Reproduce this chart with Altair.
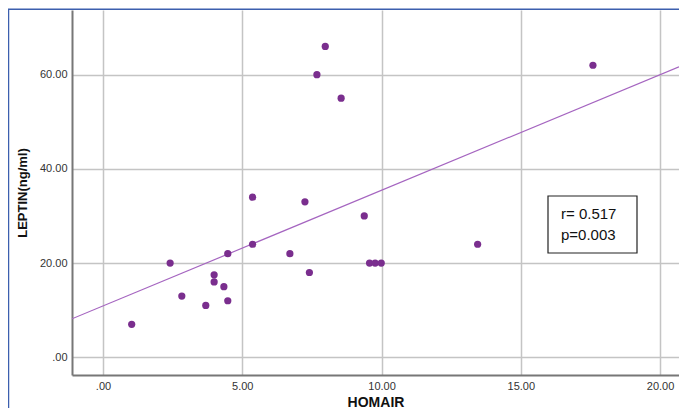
import altair as alt
import pandas as pd

# ---- data ----
homair = [1.03, 2.41, 2.83, 3.69, 3.99, 3.99, 4.34, 4.48, 4.48, 5.37, 5.37, 6.71,
          7.25, 7.41, 9.38, 9.57, 9.77, 9.99, 13.45, 7.98, 7.68, 8.55, 17.59]
leptin = [7.0, 20.0, 13.0, 11.0, 17.5, 16.0, 15.0, 22.0, 12.0, 34.0, 24.0, 22.0,
          33.0, 18.0, 30.0, 20.0, 20.0, 20.0, 24.0, 66.0, 60.0, 55.0, 62.0]

x_ticks = [0, 5, 10, 15, 20]
y_ticks = [0, 20, 40, 60]
x_domain = [-1.113, 20.68]
y_domain = [-3.76, 73.73]

fit_intercept = 10.9
fit_slope = 2.455

stats_text = ["r= 0.517", "p=0.003"]

# ---- tables ----
pts = pd.DataFrame({"HOMAIR": homair, "LEPTIN": leptin})
fit = pd.DataFrame({"HOMAIR": x_domain,
                    "LEPTIN": [fit_intercept + fit_slope * v for v in x_domain]})

W, H = 607, 365
FONT = "Liberation Sans"

lab_expr = "datum.value == 0 ? '.00' : format(datum.value, '.2f')"

xs = alt.Scale(domain=x_domain, nice=False, zero=False)
ys = alt.Scale(domain=y_domain, nice=False, zero=False)

x_axis = alt.Axis(values=x_ticks, labelExpr=lab_expr, grid=True, gridColor="#c4c4c4",
                  gridWidth=1.5, domainColor="#777777", domainWidth=2, ticks=False,
                  labelFont=FONT, labelFontSize=11, labelColor="#333333", labelPadding=5,
                  title="HOMAIR", titleFont=FONT, titleFontSize=14, titleFontWeight="bold",
                  titleColor="#111111", titleBaseline="alphabetic", titleY=31)
y_axis = alt.Axis(values=y_ticks, labelExpr=lab_expr, grid=True, gridColor="#c4c4c4",
                  gridWidth=1.5, domainColor="#777777", domainWidth=2, ticks=False,
                  labelFont=FONT, labelFontSize=11, labelColor="#333333", labelPadding=5,
                  title="LEPTIN(ng/ml)", titleFont=FONT, titleFontSize=13,
                  titleFontWeight="bold", titleColor="#111111", titlePadding=10)

X = alt.X("HOMAIR:Q", scale=xs, axis=x_axis)
Y = alt.Y("LEPTIN:Q", scale=ys, axis=y_axis)

points = alt.Chart(pts).mark_circle(size=52, color="#7a2e8e", opacity=1).encode(x=X, y=Y)

line = alt.Chart(fit).mark_line(color="#a565c0", strokeWidth=1.2, clip=True).encode(x=X, y=Y)

one = pd.DataFrame({"a": [0]})

box = alt.Chart(one).mark_rect(
    fill="white", stroke="#222222", strokeWidth=1.2).encode(
    x=alt.value(476), x2=alt.value(565), y=alt.value(186), y2=alt.value(243))

text_layers = []
for k, s in enumerate(stats_text):
    text_layers.append(
        alt.Chart(one).mark_text(align="left", baseline="middle", font=FONT,
                                 fontSize=15, color="#111111", text=s).encode(
            x=alt.value(489), y=alt.value(204 + 21 * k))
    )

frame = alt.Chart(one).mark_rect(
    fill=None, stroke="#3c5fae", strokeWidth=1.5).encode(
    x=alt.value(-63.5), x2=alt.value(800), y=alt.value(-0.7), y2=alt.value(600))

chart = alt.layer(line, points, box, *text_layers, frame).properties(
    width=W, height=H,
    autosize=alt.AutoSizeParams(type="none"),
    padding={"left": 64, "top": 2, "right": 0, "bottom": 33},
    background="white",
).configure_view(stroke=None)

chart.save("out.html", embed_options={"renderer": "svg", "actions": False})
